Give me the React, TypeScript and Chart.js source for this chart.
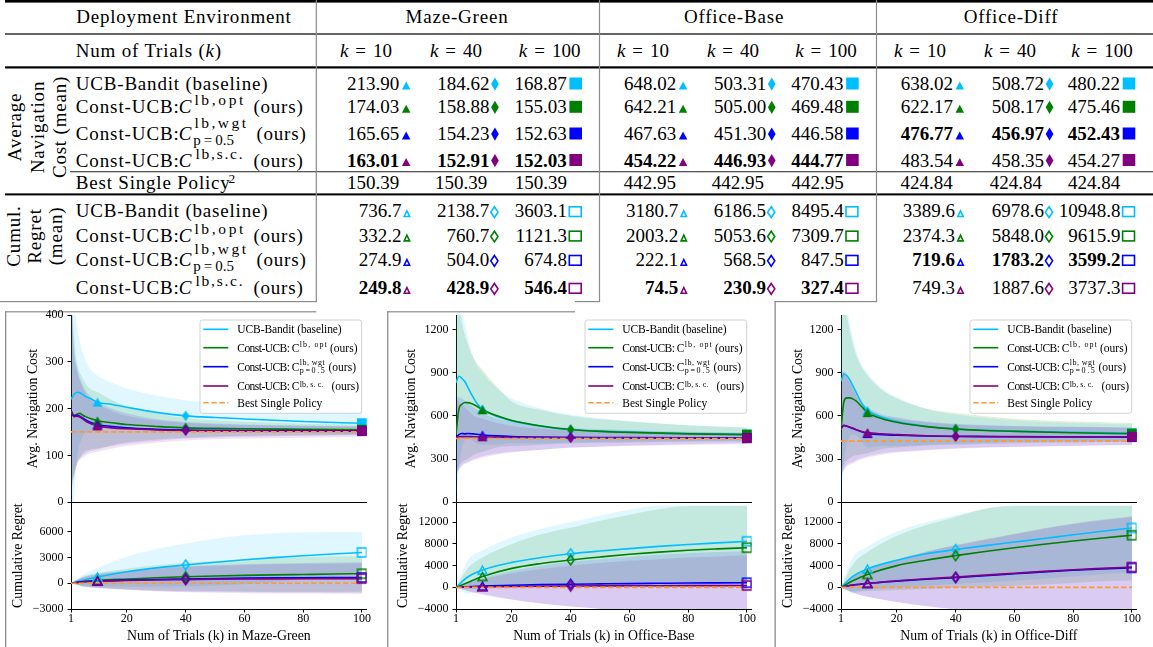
import React, { useEffect, useRef } from "react";
import { Chart, registerables } from "chart.js";

Chart.register(...registerables);

const FONT = "'Liberation Serif', 'Times New Roman', Times, serif";

// ---------------- data ----------------
const ENVIRONMENTS = ["Maze-Green", "Office-Base", "Office-Diff"];
const METHOD_COLORS = ["#00BFFF", "#008000", "#0000FF", "#800080"];
const BAND_COLORS = ["rgba(0,191,255,0.12)", "rgba(0,128,0,0.13)", "rgba(0,0,255,0.11)", "rgba(128,0,128,0.11)"];
const BEST_COLOR = "#FF9933";
const K_CHECK = [10, 40, 100];
const K_LABELS = ["10", "40", "100"];
const X_TICKS = [1, 20, 40, 60, 80, 100];

// Table values: [method][k=10, k=40, k=100]
const AVG_MAZE_GREEN = [[213.90, 184.62, 168.87], [174.03, 158.88, 155.03], [165.65, 154.23, 152.63], [163.01, 152.91, 152.03]];
const AVG_OFFICE_BASE = [[648.02, 503.31, 470.43], [642.21, 505.00, 469.48], [467.63, 451.30, 446.58], [454.22, 446.93, 444.77]];
const AVG_OFFICE_DIFF = [[638.02, 508.72, 480.22], [622.17, 508.17, 475.46], [476.77, 456.97, 452.43], [483.54, 458.35, 454.27]];
const BEST_SINGLE = [150.39, 442.95, 424.84];
const REG_MAZE_GREEN = [[736.7, 2138.7, 3603.1], [332.2, 760.7, 1121.3], [274.9, 504.0, 674.8], [249.8, 428.9, 546.4]];
const REG_OFFICE_BASE = [[3180.7, 6186.5, 8495.4], [2003.2, 5053.6, 7309.7], [222.1, 568.5, 847.5], [74.5, 230.9, 327.4]];
const REG_OFFICE_DIFF = [[3389.6, 6978.6, 10948.8], [2374.3, 5848.0, 9615.9], [719.6, 1783.2, 3599.2], [749.3, 1887.6, 3737.3]];
const BOLD_AVG = [3, 3, 2];
const BOLD_REG = [3, 3, 2];

// Curves
const K_AVG = [1, 2, 3, 4, 5, 6, 8, 10, 15, 20, 30, 40, 50, 60, 80, 100];
const K_BAND = [1, 2, 3, 5, 7, 10, 15, 20, 30, 40, 60, 80, 100];
const K_REG = [1, 5, 10, 20, 30, 40, 50, 60, 70, 80, 90, 100];

// Maze-Green
const MG_AVG_UCB = [220, 230, 235, 234, 230, 226, 220, 213.90, 209, 203, 192, 184.62, 181, 178, 172.5, 168.87];
const MG_AVG_OPT = [195, 185, 188, 190, 186, 183, 178, 174.03, 170, 166, 162, 158.88, 158, 157, 156, 155.03];
const MG_AVG_WGT = [195, 185, 186, 184, 180, 176, 170, 165.65, 162, 159, 156, 154.23, 153.8, 153.4, 153, 152.63];
const MG_AVG_SC = [195, 183, 184, 182, 178, 173, 167, 163.01, 159, 157, 154.5, 152.91, 152.5, 152.3, 152.1, 152.03];
const MG_AVG_UCB_HI = [520, 450, 380, 320, 290, 271, 255, 243, 228, 218, 206, 198, 193];
const MG_AVG_UCB_LO = [-80, 10, 90, 140, 150, 157, 160, 163, 160, 152, 150, 148, 145];
const MG_AVG_OPT_HI = [480, 360, 300, 265, 245, 235, 218, 205, 190, 180, 172, 168, 166];
const MG_AVG_OPT_LO = [40, 60, 80, 105, 112, 115, 122, 128, 134, 138, 142, 143, 144];
const MG_AVG_WGT_HI = [460, 330, 290, 250, 230, 215, 200, 190, 178, 172, 166, 164, 162];
const MG_AVG_WGT_LO = [30, 60, 85, 100, 108, 113, 120, 125, 131, 136, 140, 142, 143];
const MG_AVG_SC_HI = [460, 320, 280, 245, 222, 210, 195, 185, 175, 170, 165, 163, 162];
const MG_AVG_SC_LO = [20, 50, 80, 95, 103, 108, 115, 120, 127, 132, 136, 138, 140];
const MG_REG_UCB = [0, 350, 736.7, 1350, 1800, 2138.7, 2450, 2750, 3000, 3220, 3420, 3603.1];
const MG_REG_OPT = [0, 200, 332.2, 500, 650, 760.7, 850, 920, 980, 1030, 1080, 1121.3];
const MG_REG_WGT = [0, 180, 274.9, 380, 450, 504.0, 560, 600, 630, 650, 665, 674.8];
const MG_REG_SC = [0, 160, 249.8, 330, 390, 428.9, 470, 500, 520, 535, 542, 546.4];
const MG_REG_UCB_HI = [0, 1000, 1800, 3100, 4000, 4650, 5200, 5600, 5850, 5950, 6000, 6000];
const MG_REG_UCB_LO = [0, -300, -330, -400, -400, -370, -300, -100, 150, 490, 840, 1200];
const MG_REG_OPT_HI = [0, 800, 1200, 1700, 2100, 2400, 2600, 2800, 2950, 3050, 3150, 3200];
const MG_REG_OPT_LO = [0, -400, -540, -700, -800, -880, -900, -960, -990, -990, -990, -960];
const MG_REG_WGT_HI = [0, 700, 1100, 1500, 1800, 2000, 2150, 2250, 2320, 2380, 2420, 2450];
const MG_REG_WGT_LO = [0, -340, -550, -740, -900, -990, -1030, -1050, -1060, -1080, -1090, -1100];
const MG_REG_SC_HI = [0, 650, 1000, 1400, 1700, 1900, 2050, 2150, 2220, 2270, 2300, 2350];
const MG_REG_SC_LO = [0, -330, -500, -740, -920, -1040, -1110, -1150, -1180, -1200, -1220, -1250];

// Office-Base
const OB_AVG_UCB = [830, 875, 860, 838, 800, 760, 690, 648.02, 595, 565, 528, 503.31, 495, 488, 478, 470.43];
const OB_AVG_OPT = [470, 650, 680, 693, 692, 688, 668, 642.21, 600, 568, 530, 505.00, 492, 485, 475, 469.48];
const OB_AVG_WGT = [450, 470, 478, 475, 478, 476, 472, 467.63, 461, 457, 453, 451.30, 450, 449, 447.5, 446.58];
const OB_AVG_SC = [450, 455, 456, 456, 456, 455.5, 455, 454.22, 452, 450, 448, 446.93, 446.5, 446, 445.3, 444.77];
const OB_AVG_UCB_HI = [1700, 1500, 1350, 1150, 1000, 900, 790, 720, 650, 610, 565, 535, 518];
const OB_AVG_UCB_LO = [0, 250, 370, 450, 420, 400, 400, 410, 410, 415, 420, 425, 428];
const OB_AVG_OPT_HI = [1600, 1400, 1250, 1100, 1000, 920, 800, 700, 640, 600, 560, 535, 520];
const OB_AVG_OPT_LO = [200, 250, 280, 300, 330, 350, 380, 390, 400, 410, 415, 420, 422];
const OB_AVG_WGT_HI = [720, 730, 720, 690, 660, 620, 580, 560, 530, 515, 500, 490, 485];
const OB_AVG_WGT_LO = [200, 230, 260, 280, 300, 320, 340, 350, 365, 380, 395, 405, 410];
const OB_AVG_SC_HI = [720, 700, 680, 640, 600, 580, 550, 530, 510, 500, 490, 485, 480];
const OB_AVG_SC_LO = [180, 220, 250, 275, 290, 310, 330, 345, 365, 378, 390, 398, 405];
const OB_REG_UCB = [0, 1900, 3180.7, 4600, 5500, 6186.5, 6700, 7150, 7550, 7900, 8200, 8495.4];
const OB_REG_OPT = [0, 900, 2003.2, 3500, 4400, 5053.6, 5600, 6100, 6500, 6850, 7100, 7309.7];
const OB_REG_WGT = [0, 120, 222.1, 380, 490, 568.5, 630, 690, 740, 790, 820, 847.5];
const OB_REG_SC = [0, 40, 74.5, 150, 200, 230.9, 260, 280, 300, 315, 322, 327.4];
const OB_REG_UCB_HI = [0, 5000, 6800, 9200, 10800, 12000, 13200, 14300, 15100, 15100, 15100, 15100];
const OB_REG_UCB_LO = [0, -1200, -440, 0, 200, 370, 200, 0, -100, 200, 600, 1000];
const OB_REG_OPT_HI = [0, 3500, 5500, 8000, 9800, 11000, 12300, 13400, 14400, 15000, 15000, 15000];
const OB_REG_OPT_LO = [0, -300, -200, 0, 0, 100, 100, 100, 100, 50, 0, 0];
const OB_REG_WGT_HI = [0, 900, 1700, 3000, 4000, 4700, 5200, 5600, 6000, 6300, 6500, 6700];
const OB_REG_WGT_LO = [0, -660, -1250, -2240, -3000, -3560, -3940, -4220, -4500, -4700, -4860, -5000];
const OB_REG_SC_HI = [0, 800, 1500, 2600, 3400, 4000, 4500, 4900, 5200, 5500, 5700, 5900];
const OB_REG_SC_LO = [0, -720, -1350, -2300, -3000, -3540, -3980, -4340, -4600, -4870, -5060, -5250];

// Office-Diff
const OD_AVG_UCB = [840, 890, 880, 850, 810, 770, 690, 638.02, 590, 560, 528, 508.72, 500, 494, 486, 480.22];
const OD_AVG_OPT = [500, 700, 725, 725, 718, 705, 665, 622.17, 580, 555, 525, 508.17, 498, 492, 483, 475.46];
const OD_AVG_WGT = [520, 535, 528, 520, 512, 505, 490, 476.77, 470, 466, 460, 456.97, 455.5, 455, 453.5, 452.43];
const OD_AVG_SC = [510, 532, 528, 522, 515, 505, 492, 483.54, 475, 470, 462, 458.35, 457, 456, 455, 454.27];
const OD_AVG_UCB_HI = [1700, 1500, 1350, 1150, 1000, 900, 790, 730, 650, 610, 570, 550, 540];
const OD_AVG_UCB_LO = [0, 280, 400, 470, 450, 380, 390, 390, 400, 405, 420, 425, 425];
const OD_AVG_OPT_HI = [1600, 1450, 1300, 1100, 980, 880, 780, 720, 650, 620, 580, 560, 550];
const OD_AVG_OPT_LO = [200, 260, 290, 320, 330, 340, 370, 380, 395, 400, 410, 415, 420];
const OD_AVG_WGT_HI = [900, 910, 880, 800, 720, 660, 610, 590, 560, 545, 530, 525, 520];
const OD_AVG_WGT_LO = [200, 230, 260, 280, 300, 320, 340, 350, 365, 375, 385, 393, 400];
const OD_AVG_SC_HI = [880, 900, 870, 790, 710, 650, 600, 580, 555, 540, 528, 522, 518];
const OD_AVG_SC_LO = [180, 220, 250, 270, 290, 310, 330, 345, 360, 372, 383, 390, 398];
const OD_REG_UCB = [0, 2000, 3389.6, 5000, 6200, 6978.6, 7700, 8350, 9000, 9700, 10350, 10948.8];
const OD_REG_OPT = [0, 1200, 2374.3, 4000, 5000, 5848.0, 6600, 7300, 7950, 8550, 9100, 9615.9];
const OD_REG_WGT = [0, 400, 719.6, 1150, 1500, 1783.2, 2150, 2500, 2850, 3150, 3400, 3599.2];
const OD_REG_SC = [0, 420, 749.3, 1200, 1580, 1887.6, 2250, 2600, 2950, 3250, 3500, 3737.3];
const OD_REG_UCB_HI = [0, 5500, 7500, 10300, 12000, 13300, 14500, 15100, 15100, 15100, 15100, 15100];
const OD_REG_UCB_LO = [0, -1000, -500, 0, 300, 600, 900, 1200, 1600, 2000, 2400, 2800];
const OD_REG_OPT_HI = [0, 4200, 6500, 9500, 11500, 13000, 14500, 15000, 15000, 15000, 15000, 15000];
const OD_REG_OPT_LO = [0, -800, -700, -500, -300, -100, 100, 300, 500, 800, 1100, 1300];
const OD_REG_WGT_HI = [0, 1800, 3200, 5000, 6500, 7700, 8800, 9800, 10800, 11700, 12400, 13000];
const OD_REG_WGT_LO = [0, -1000, -1760, -2700, -3500, -4100, -4500, -4800, -5100, -5400, -5600, -5800];
const OD_REG_SC_HI = [0, 1850, 3250, 5100, 6600, 7800, 8900, 9900, 10900, 11800, 12500, 13100];
const OD_REG_SC_LO = [0, -1000, -1750, -2700, -3450, -4000, -4400, -4700, -5000, -5300, -5500, -5600];

// axis ranges / ticks
const MG_AVG_TICKS = [0, 100, 200, 300, 400];
const OFFICE_AVG_TICKS = [0, 300, 600, 900, 1200];
const MG_REG_TICKS = [-3000, 0, 3000, 6000];
const OFFICE_REG_TICKS = [-4000, 0, 4000, 8000, 12000];

type Panel = {
  off: number;
  env: string;
  avgMeans: number[][];
  avgHi: number[][];
  avgLo: number[][];
  regMeans: number[][];
  regHi: number[][];
  regLo: number[][];
  avgTable: number[][];
  regTable: number[][];
  best: number;
  avgMax: number;
  avgTicks: number[];
  regMin: number;
  regMax: number;
  regTicks: number[];
  avgTitleGap: number;
};

const PANELS: Panel[] = [
  {
    off: 0, env: ENVIRONMENTS[0],
    avgMeans: [MG_AVG_UCB, MG_AVG_OPT, MG_AVG_WGT, MG_AVG_SC],
    avgHi: [MG_AVG_UCB_HI, MG_AVG_OPT_HI, MG_AVG_WGT_HI, MG_AVG_SC_HI],
    avgLo: [MG_AVG_UCB_LO, MG_AVG_OPT_LO, MG_AVG_WGT_LO, MG_AVG_SC_LO],
    regMeans: [MG_REG_UCB, MG_REG_OPT, MG_REG_WGT, MG_REG_SC],
    regHi: [MG_REG_UCB_HI, MG_REG_OPT_HI, MG_REG_WGT_HI, MG_REG_SC_HI],
    regLo: [MG_REG_UCB_LO, MG_REG_OPT_LO, MG_REG_WGT_LO, MG_REG_SC_LO],
    avgTable: AVG_MAZE_GREEN, regTable: REG_MAZE_GREEN, best: BEST_SINGLE[0],
    avgMax: 400, avgTicks: MG_AVG_TICKS, regMin: -3000, regMax: 9455, regTicks: MG_REG_TICKS,
    avgTitleGap: 38,
  },
  {
    off: 385, env: ENVIRONMENTS[1],
    avgMeans: [OB_AVG_UCB, OB_AVG_OPT, OB_AVG_WGT, OB_AVG_SC],
    avgHi: [OB_AVG_UCB_HI, OB_AVG_OPT_HI, OB_AVG_WGT_HI, OB_AVG_SC_HI],
    avgLo: [OB_AVG_UCB_LO, OB_AVG_OPT_LO, OB_AVG_WGT_LO, OB_AVG_SC_LO],
    regMeans: [OB_REG_UCB, OB_REG_OPT, OB_REG_WGT, OB_REG_SC],
    regHi: [OB_REG_UCB_HI, OB_REG_OPT_HI, OB_REG_WGT_HI, OB_REG_SC_HI],
    regLo: [OB_REG_UCB_LO, OB_REG_OPT_LO, OB_REG_WGT_LO, OB_REG_SC_LO],
    avgTable: AVG_OFFICE_BASE, regTable: REG_OFFICE_BASE, best: BEST_SINGLE[1],
    avgMax: 1300, avgTicks: OFFICE_AVG_TICKS, regMin: -4000, regMax: 15691, regTicks: OFFICE_REG_TICKS,
    avgTitleGap: 44.3,
  },
  {
    off: 770, env: ENVIRONMENTS[2],
    avgMeans: [OD_AVG_UCB, OD_AVG_OPT, OD_AVG_WGT, OD_AVG_SC],
    avgHi: [OD_AVG_UCB_HI, OD_AVG_OPT_HI, OD_AVG_WGT_HI, OD_AVG_SC_HI],
    avgLo: [OD_AVG_UCB_LO, OD_AVG_OPT_LO, OD_AVG_WGT_LO, OD_AVG_SC_LO],
    regMeans: [OD_REG_UCB, OD_REG_OPT, OD_REG_WGT, OD_REG_SC],
    regHi: [OD_REG_UCB_HI, OD_REG_OPT_HI, OD_REG_WGT_HI, OD_REG_SC_HI],
    regLo: [OD_REG_UCB_LO, OD_REG_OPT_LO, OD_REG_WGT_LO, OD_REG_SC_LO],
    avgTable: AVG_OFFICE_DIFF, regTable: REG_OFFICE_DIFF, best: BEST_SINGLE[2],
    avgMax: 1300, avgTicks: OFFICE_AVG_TICKS, regMin: -4000, regMax: 15691, regTicks: OFFICE_REG_TICKS,
    avgTitleGap: 42.7,
  },
];

// ---------------- geometry ----------------
const PLOT_L = 71;
const PLOT_R = 366.7;
const TOP_T = 315;
const MID_Y = 502.3;
const BOT_B = 609;
const Y_AXIS_W = 62;
const X_MAX = 101.6;
const TICK_SIZE = 12;
const TITLE_SIZE = 13.8;

function geom(off: number, part: string) {
  const plotL = off + PLOT_L;
  const plotR = off + PLOT_R;
  const cl = Math.floor(plotL - Y_AXIS_W);
  const cw = Math.ceil(plotR + 22 - cl);
  const padRight = cw - (plotR - cl);
  if (part === "avg") {
    const ct = Math.floor(TOP_T - 12);
    const ch = Math.ceil(MID_Y + 10 - ct);
    return { cl, ct, cw, ch, yW: plotL - cl, padTop: TOP_T - ct, padRight, padBottom: ch - (MID_Y - ct), xH: 0 };
  }
  const ct = Math.floor(MID_Y - 12);
  const ch = Math.ceil(BOT_B + 36 - ct);
  return { cl, ct, cw, ch, yW: plotL - cl, padTop: MID_Y - ct, padRight, padBottom: 0, xH: ch - (BOT_B - ct) };
}

function makeMarker(kind: string, color: string, filled: boolean) {
  const sizes: any = filled
    ? { tri: [10, 9], dia: [7.5, 10.5], sq: [10, 10] }
    : { tri: [9, 8], dia: [7, 10], sq: [9, 9] };
  const [w, h] = sizes[kind];
  const c = document.createElement("canvas");
  c.width = Math.ceil(w + 4);
  c.height = Math.ceil(h + 4);
  const ctx = c.getContext("2d")!;
  const cx = c.width / 2;
  const cy = c.height / 2;
  ctx.beginPath();
  if (kind === "tri") {
    ctx.moveTo(cx, cy - h / 2);
    ctx.lineTo(cx + w / 2, cy + h / 2);
    ctx.lineTo(cx - w / 2, cy + h / 2);
    ctx.closePath();
  } else if (kind === "dia") {
    ctx.moveTo(cx, cy - h / 2);
    ctx.lineTo(cx + w / 2, cy);
    ctx.lineTo(cx, cy + h / 2);
    ctx.lineTo(cx - w / 2, cy);
    ctx.closePath();
  } else {
    ctx.rect(cx - w / 2, cy - h / 2, w, h);
  }
  if (filled) {
    ctx.fillStyle = color;
    ctx.fill();
  } else {
    ctx.strokeStyle = color;
    ctx.lineWidth = 1.5;
    ctx.stroke();
  }
  return c;
}

function buildConfig(p: Panel, part: string, g: any) {
  const isAvg = part === "avg";
  const kx = isAvg ? K_AVG : K_REG;
  const kb = isAvg ? K_BAND : K_REG;
  const means = isAvg ? p.avgMeans : p.regMeans;
  const his = isAvg ? p.avgHi : p.regHi;
  const los = isAvg ? p.avgLo : p.regLo;
  const table = isAvg ? p.avgTable : p.regTable;
  const bestY = isAvg ? p.best : 0;
  const datasets: any[] = [];
  for (let i = 0; i < 4; i++) {
    const c = METHOD_COLORS[i];
    datasets.push({
      data: K_CHECK.map((k, j) => ({ x: k, y: table[i][j] })),
      showLine: false,
      pointStyle: [makeMarker("tri", c, isAvg), makeMarker("dia", c, isAvg), makeMarker("sq", c, isAvg)],
      pointRadius: 5,
      pointHoverRadius: 5,
      borderColor: "transparent",
      backgroundColor: "transparent",
      order: 3 - i,
    });
  }
  datasets.push({
    data: [{ x: 1, y: bestY }, { x: 100, y: bestY }],
    borderColor: BEST_COLOR,
    borderWidth: 1.6,
    borderDash: [5.5, 2.5],
    pointRadius: 0,
    fill: false,
    order: 4,
  });
  for (let i = 0; i < 4; i++) {
    datasets.push({
      data: kx.map((k, j) => ({ x: k, y: means[i][j] })),
      borderColor: METHOD_COLORS[i],
      borderWidth: 1.6,
      pointRadius: 0,
      cubicInterpolationMode: "monotone",
      fill: false,
      order: 8 - i,
    });
  }
  for (let i = 0; i < 4; i++) {
    datasets.push({
      data: kb.map((k, j) => ({ x: k, y: los[i][j] })),
      borderWidth: 0,
      borderColor: "transparent",
      pointRadius: 0,
      cubicInterpolationMode: "monotone",
      fill: false,
      order: 20 - 2 * i,
    });
    datasets.push({
      data: kb.map((k, j) => ({ x: k, y: his[i][j] })),
      borderWidth: 0,
      borderColor: "transparent",
      backgroundColor: BAND_COLORS[i],
      pointRadius: 0,
      cubicInterpolationMode: "monotone",
      fill: "-1",
      order: 19 - 2 * i,
    });
  }
  const tickFont = { family: FONT, size: TICK_SIZE, lineHeight: 1 };
  const titleFont = { family: FONT, size: TITLE_SIZE, lineHeight: 1.2 };
  const lh = TITLE_SIZE * 1.2;
  const plotL = p.off + PLOT_L;
  const yTitlePad = plotL - (isAvg ? p.avgTitleGap : 52.7) - g.cl - lh / 2;
  const yTicks = isAvg ? p.avgTicks : p.regTicks;
  const fmt = (v: number) => (v < 0 ? "\u2212" + Math.abs(v) : String(v));
  return {
    type: "line",
    data: { datasets },
    options: {
      responsive: false,
      animation: false,
      devicePixelRatio: 1,
      events: [],
      layout: { padding: { left: 0, top: g.padTop, right: g.padRight, bottom: g.padBottom } },
      plugins: { legend: { display: false }, tooltip: { enabled: false } },
      scales: {
        x: {
          type: "linear",
          min: 1,
          max: X_MAX,
          afterBuildTicks: (s: any) => {
            s.ticks = X_TICKS.map((v) => ({ value: v }));
          },
          afterFit: (s: any) => {
            s.height = g.xH;
          },
          ticks: { display: !isAvg, font: tickFont, color: "#000", padding: 0, maxRotation: 0, autoSkip: false },
          grid: { display: !isAvg, drawOnChartArea: false, drawTicks: true, tickLength: 3.5, color: "#000" },
          border: { display: true, color: "#000", width: 1 },
          title: {
            display: !isAvg,
            text: "Num of Trials (k) in " + p.env,
            font: titleFont,
            color: "#000",
            padding: { top: 0, bottom: g.ct + g.ch - 636.7 - lh / 2 },
          },
        },
        y: {
          type: "linear",
          min: isAvg ? 0 : p.regMin,
          max: isAvg ? p.avgMax : p.regMax,
          afterBuildTicks: (s: any) => {
            s.ticks = yTicks.map((v) => ({ value: v }));
          },
          afterFit: (s: any) => {
            s.width = g.yW;
          },
          ticks: { font: tickFont, color: "#000", padding: 4, autoSkip: false, callback: (v: any) => fmt(Number(v)) },
          grid: { drawOnChartArea: false, drawTicks: true, tickLength: 3.5, color: "#000" },
          border: { display: true, color: "#000", width: 1 },
          title: {
            display: true,
            text: isAvg ? "Avg. Navigation Cost" : "Cumulative Regret",
            font: titleFont,
            color: "#000",
            padding: { top: yTitlePad, bottom: 0 },
          },
        },
      },
    },
  };
}

function PanelChart({ panel, part }: { panel: Panel; part: string }) {
  const ref = useRef<HTMLCanvasElement | null>(null);
  const g = geom(panel.off, part);
  useEffect(() => {
    const chart = new Chart(ref.current as HTMLCanvasElement, buildConfig(panel, part, g) as any);
    return () => chart.destroy();
  }, []);
  return (
    <canvas
      ref={ref}
      width={g.cw}
      height={g.ch}
      style={{ position: "absolute", left: g.cl, top: g.ct, width: g.cw, height: g.ch }}
    />
  );
}

// ---------------- table ----------------
const ROW_X = 75.8;
const COL_RIGHT = [[410.4, 498.8, 582], [687.3, 775.6, 858.7], [964, 1053.4, 1135.3]];
const HEAD_CX = [[366, 456, 549.6], [643, 733, 826], [920, 1010, 1102]];
const ENV_CX = [457, 734, 1011];
const AVG_BASE = [90, 113.3, 140, 166.5];
const REG_BASE = [217.3, 241.7, 266, 294];
const BEST_BASE = 189.3;
const LS = 0.8;

function TableMarker({ kind, filled, color, R, b }: any) {
  if (filled) {
    if (kind === 0) return <polygon points={`${R - 8.5},${b - 0.5} ${R},${b - 0.5} ${R - 4.25},${b - 8.5}`} fill={color} />;
    if (kind === 1)
      return <polygon points={`${R - 3.85},${b - 12.6} ${R},${b - 5.95} ${R - 3.85},${b + 0.7} ${R - 7.7},${b - 5.95}`} fill={color} />;
    return <rect x={R - 12.6} y={b - 12.5} width={12.6} height={12} fill={color} />;
  }
  if (kind === 0)
    return <polygon points={`${R - 6.2},${b - 0.8} ${R - 0.8},${b - 0.8} ${R - 3.5},${b - 6.5}`} fill="none" stroke={color} strokeWidth={1.6} />;
  if (kind === 1)
    return <polygon points={`${R - 4.4},${b - 10.5} ${R - 0.8},${b - 5.15} ${R - 4.4},${b + 0.2} ${R - 8},${b - 5.15}`} fill="none" stroke={color} strokeWidth={1.6} />;
  return <rect x={R - 12.7} y={b - 10.5} width={11.9} height={9.7} fill="none" stroke={color} strokeWidth={1.6} />;
}

function RowLabel({ i, b }: { i: number; b: number }) {
  const common = { fontFamily: FONT, fontSize: 19, fill: "#000" };
  if (i === 0)
    return (
      <text x={ROW_X} y={b} {...common} letterSpacing={LS}>
        UCB-Bandit (baseline)
      </text>
    );
  const sup = ["", "lb,opt", "lb,wgt", "lb,s.c."][i];
  const supW = [0, 49, 51.7, 47][i];
  const supX = i === 3 ? 195.5 : 194.4;
  const oursX = i === 2 ? 256.4 : 253.4;
  return (
    <g>
      <text x={ROW_X} y={b} {...common} textLength={103} lengthAdjust="spacing">
        Const-UCB:
      </text>
      <text x={178.7} y={b} {...common} fontStyle="italic">
        C
      </text>
      <text x={supX} y={b - (i === 2 ? 12.3 : 8)} fontFamily={FONT} fontSize={15.5} textLength={supW} lengthAdjust="spacing">
        {sup}
      </text>
      {i === 2 && (
        <text x={193.3} y={b + 4.5} fontFamily={FONT} fontSize={15}>
          <tspan>p</tspan>
          <tspan dx={3}>=</tspan>
          <tspan dx={3}>0.5</tspan>
        </text>
      )}
      <text x={oursX} y={b} {...common} letterSpacing={LS}>
        (ours)
      </text>
    </g>
  );
}

function TableLayer() {
  const items: any[] = [];
  const tables = [
    [AVG_MAZE_GREEN, AVG_OFFICE_BASE, AVG_OFFICE_DIFF],
    [REG_MAZE_GREEN, REG_OFFICE_BASE, REG_OFFICE_DIFF],
  ];
  const avgGap = [11.1, 9.3, 15.2];
  const regGap = [9, 9.5, 14.9];
  const bestGap = [11.2, 11.5, 15];
  for (let part = 0; part < 2; part++) {
    const bases = part === 0 ? AVG_BASE : REG_BASE;
    const gaps = part === 0 ? avgGap : regGap;
    const boldRow = part === 0 ? BOLD_AVG : BOLD_REG;
    for (let m = 0; m < 4; m++) {
      items.push(<RowLabel key={`rl${part}${m}`} i={m} b={bases[m]} />);
      for (let e = 0; e < 3; e++) {
        for (let k = 0; k < 3; k++) {
          const R = COL_RIGHT[e][k];
          const v = tables[part][e][m][k];
          const txt = part === 0 ? v.toFixed(2) : v.toFixed(1);
          items.push(
            <text
              key={`v${part}${m}${e}${k}`}
              x={R - gaps[k]}
              y={bases[m]}
              textAnchor="end"
              fontFamily={FONT}
              fontSize={19}
              fontWeight={boldRow[e] === m ? "bold" : "normal"}
              fill="#000"
            >
              {txt}
            </text>
          );
          items.push(
            <TableMarker key={`mk${part}${m}${e}${k}`} kind={k} filled={part === 0} color={METHOD_COLORS[m]} R={R} b={bases[m]} />
          );
        }
      }
    }
  }
  for (let e = 0; e < 3; e++) {
    for (let k = 0; k < 3; k++) {
      items.push(
        <text key={`best${e}${k}`} x={COL_RIGHT[e][k] - bestGap[k]} y={BEST_BASE} textAnchor="end" fontFamily={FONT} fontSize={19} fill="#000">
          {BEST_SINGLE[e].toFixed(2)}
        </text>
      );
      items.push(
        <text key={`kh${e}${k}`} x={HEAD_CX[e][k]} y={56.5} textAnchor="middle" fontFamily={FONT} fontSize={19} fill="#000">
          <tspan fontStyle="italic">k</tspan>
          <tspan dx={7}>=</tspan>
          <tspan dx={7}>{K_LABELS[k]}</tspan>
        </text>
      );
    }
    items.push(
      <text key={`env${e}`} x={ENV_CX[e]} y={23} textAnchor="middle" fontFamily={FONT} fontSize={19} letterSpacing={LS} fill="#000">
        {ENVIRONMENTS[e]}
      </text>
    );
  }
  const gray = "#8c8c8c";
  return (
    <svg width={1153} height={647} style={{ position: "absolute", left: 0, top: 0 }}>
      <rect x={5} y={0} width={1148} height={2.6} fill="#000" />
      <rect x={5} y={33.4} width={1148} height={1.2} fill="#000" />
      <rect x={5} y={66.3} width={1148} height={2.2} fill="#000" />
      <rect x={70} y={171} width={1083} height={1.3} fill="#555" />
      <rect x={5} y={193.4} width={1148} height={2} fill="#000" />
      <rect x={315.7} y={0} width={1.2} height={301.5} fill={gray} />
      <rect x={598.9} y={0} width={1.2} height={301.5} fill={gray} />
      <rect x={875.9} y={0} width={1.2} height={301.5} fill={gray} />
      <rect x={0} y={301} width={316.9} height={1.2} fill={gray} />
      <rect x={575} y={301} width={25.1} height={1.2} fill={gray} />
      <rect x={774.5} y={301} width={102.6} height={1.2} fill={gray} />
      <rect x={5} y={311.2} width={1.3} height={340} fill={gray} />
      <rect x={5} y={311.2} width={311.3} height={1.2} fill={gray} />
      <rect x={387.1} y={311.2} width={1.3} height={340} fill={gray} />
      <rect x={387.1} y={311.2} width={188} height={1.2} fill={gray} />
      <rect x={774.5} y={301} width={1.3} height={350} fill={gray} />
      <text x={183.9} y={23} textAnchor="middle" fontFamily={FONT} fontSize={19} letterSpacing={LS} fill="#000">
        Deployment Environment
      </text>
      <text x={ROW_X} y={56.5} fontFamily={FONT} fontSize={19} letterSpacing={LS} fill="#000">
        Num of Trials (<tspan fontStyle="italic">k</tspan>)
      </text>
      <text transform="translate(21,127) rotate(-90)" textAnchor="middle" fontFamily={FONT} fontSize={19} letterSpacing={LS}>
        Average
      </text>
      <text transform="translate(43.5,127) rotate(-90)" textAnchor="middle" fontFamily={FONT} fontSize={19} letterSpacing={LS}>
        Navigation
      </text>
      <text transform="translate(65.5,127) rotate(-90)" textAnchor="middle" fontFamily={FONT} fontSize={19} letterSpacing={LS}>
        Cost (mean)
      </text>
      <text transform="translate(20,236) rotate(-90)" textAnchor="middle" fontFamily={FONT} fontSize={19} letterSpacing={LS}>
        Cumul.
      </text>
      <text transform="translate(40.5,236) rotate(-90)" textAnchor="middle" fontFamily={FONT} fontSize={19} letterSpacing={LS}>
        Regret
      </text>
      <text transform="translate(62,236) rotate(-90)" textAnchor="middle" fontFamily={FONT} fontSize={19} letterSpacing={LS}>
        (mean)
      </text>
      <text x={ROW_X} y={BEST_BASE} fontFamily={FONT} fontSize={19} letterSpacing={LS} fill="#000">
        Best Single Policy
      </text>
      <text x={228.5} y={182.7} fontFamily={FONT} fontSize={13.5} fill="#000">
        2
      </text>
      {items}
    </svg>
  );
}

// ---------------- legends ----------------
function LegendGroup({ off }: { off: number }) {
  const ys = [329.3, 347.7, 366.7, 386, 402.7];
  const tx = off + 237.3;
  const f = { fontFamily: FONT, fontSize: 11.5, fill: "#000" };
  const s = { fontFamily: FONT, fontSize: 8, fill: "#000" };
  return (
    <g>
      <rect x={off + 200} y={320} width={161.7} height={93.3} rx={2.5} fill="#fff" fillOpacity={0.8} stroke="#d2d2d2" strokeWidth={1} />
      {ys.map((y, i) => (
        <line
          key={i}
          x1={off + 203.3}
          x2={off + 228.3}
          y1={y}
          y2={y}
          stroke={i < 4 ? METHOD_COLORS[i] : BEST_COLOR}
          strokeWidth={1.6}
          strokeDasharray={i === 4 ? "5.5 2.5" : undefined}
        />
      ))}
      <text x={tx} y={ys[0] + 4} {...f} textLength={104.4} lengthAdjust="spacing">
        UCB-Bandit (baseline)
      </text>
      <text x={tx} y={ys[1] + 4} {...f} textLength={62} lengthAdjust="spacing">
        Const-UCB: C
      </text>
      <text x={off + 299.8} y={ys[1] - 0.3} {...s} textLength={27} lengthAdjust="spacing">
        lb, opt
      </text>
      <text x={off + 330} y={ys[1] + 4} {...f}>
        (ours)
      </text>
      <text x={tx} y={ys[2] + 4} {...f} textLength={62} lengthAdjust="spacing">
        Const-UCB: C
      </text>
      <text x={off + 299.8} y={ys[2] - 2} {...s} textLength={25} lengthAdjust="spacing">
        lb, wgt
      </text>
      <text x={off + 299.8} y={ys[2] + 6.5} {...s} textLength={25} lengthAdjust="spacing">
        p=0.5
      </text>
      <text x={off + 328.5} y={ys[2] + 4} {...f}>
        (ours)
      </text>
      <text x={tx} y={ys[3] + 4} {...f} textLength={62} lengthAdjust="spacing">
        Const-UCB: C
      </text>
      <text x={off + 299.8} y={ys[3] + 0.5} {...s} textLength={23.5} lengthAdjust="spacing">
        lb, s. c.
      </text>
      <text x={off + 331.5} y={ys[3] + 4} {...f}>
        (ours)
      </text>
      <text x={tx} y={ys[4] + 4} {...f}>
        Best Single Policy
      </text>
    </g>
  );
}

export default function App() {
  return (
    <div style={{ position: "absolute", left: 0, top: 0, width: 1153, height: 647, background: "#fff", overflow: "hidden" }}>
      <TableLayer />
      {PANELS.map((p) => (
        <React.Fragment key={p.env}>
          <PanelChart panel={p} part="avg" />
          <PanelChart panel={p} part="reg" />
        </React.Fragment>
      ))}
      <svg width={1153} height={647} style={{ position: "absolute", left: 0, top: 0, pointerEvents: "none" }}>
        {PANELS.map((p) => (
          <LegendGroup key={p.env} off={p.off} />
        ))}
      </svg>
    </div>
  );
}
